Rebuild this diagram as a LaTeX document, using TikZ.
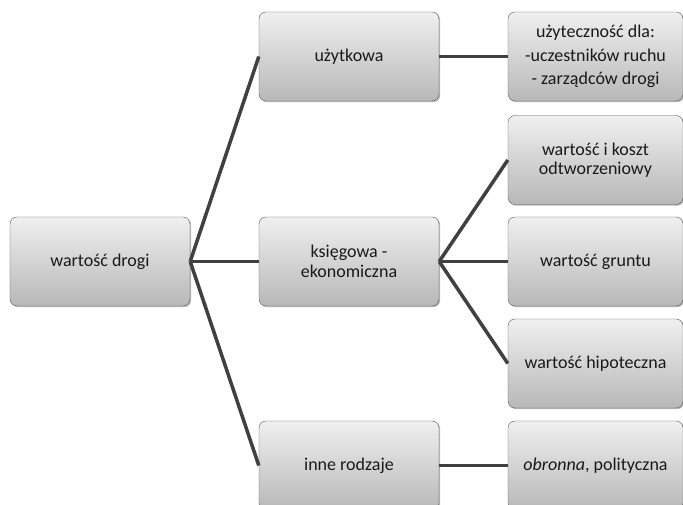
\documentclass[tikz,border=0pt]{standalone}
\usepackage{fontspec}
\setmainfont{Carlito}
\usepackage{tikz}
\usetikzlibrary{shadows}
\tikzset{branch/.style={line width=3.5pt, draw=black!75}}
\tikzstyle{value_box} = [draw=black!65, rounded corners=7pt, top color=black!6, bottom color=black!28, minimum width=180pt, minimum height=89pt, align=center, text=black!90, font=\fontsize{18}{19.5}\selectfont, drop shadow={shadow xshift=1.2pt, shadow yshift=-1.2pt, fill=black!55}]
\tikzstyle{leaf_box} = [value_box, minimum width=175pt]

\begin{document}
\begin{tikzpicture}[node distance=102pt]
				\useasboundingbox (-100pt,261.5pt) rectangle (583pt,-243.5pt);
				\node[value_box](root){wartość drogi};
				\node[value_box, right of=root, xshift=147pt](ksiegowa){księgowa -\\ekonomiczna};
				\node[value_box, above of=ksiegowa, yshift=103pt](uzytkowa){użytkowa};
				\node[value_box, below of=ksiegowa, yshift=-102pt](inne){inne rodzaje};
				
				\node[leaf_box, right of=ksiegowa, xshift=144.5pt](grunt){wartość gruntu};
				\node[leaf_box, above of=grunt, yshift=-.5pt](koszt){wartość i koszt\\odtworzeniowy};
				\node[leaf_box, above of=koszt, yshift=1.5pt](uzytecznosc){użyteczność dla:\\[4pt]-uczestników ruchu\\[4pt]- zarządców drogi};
				\node[leaf_box, below of=grunt](hipoteka){wartość hipoteczna};
				\node[leaf_box, below of=hipoteka](obronna){\textit{obronna}, polityczna};
				
				% draw lines
				\draw[branch] (root.east) -- (uzytkowa.west);
				\draw[branch] (root.east) -- (ksiegowa.west);
				\draw[branch] (root.east) -- (inne.west);
				\draw[branch] (uzytkowa.east) -- (uzytecznosc.west);
				\draw[branch] (ksiegowa.east) -- (koszt.west);
				\draw[branch] (ksiegowa.east) -- (grunt.west);
				\draw[branch] (ksiegowa.east) -- (hipoteka.west);
				\draw[branch] (inne.east) -- (obronna.west);
			\end{tikzpicture}
\end{document}
